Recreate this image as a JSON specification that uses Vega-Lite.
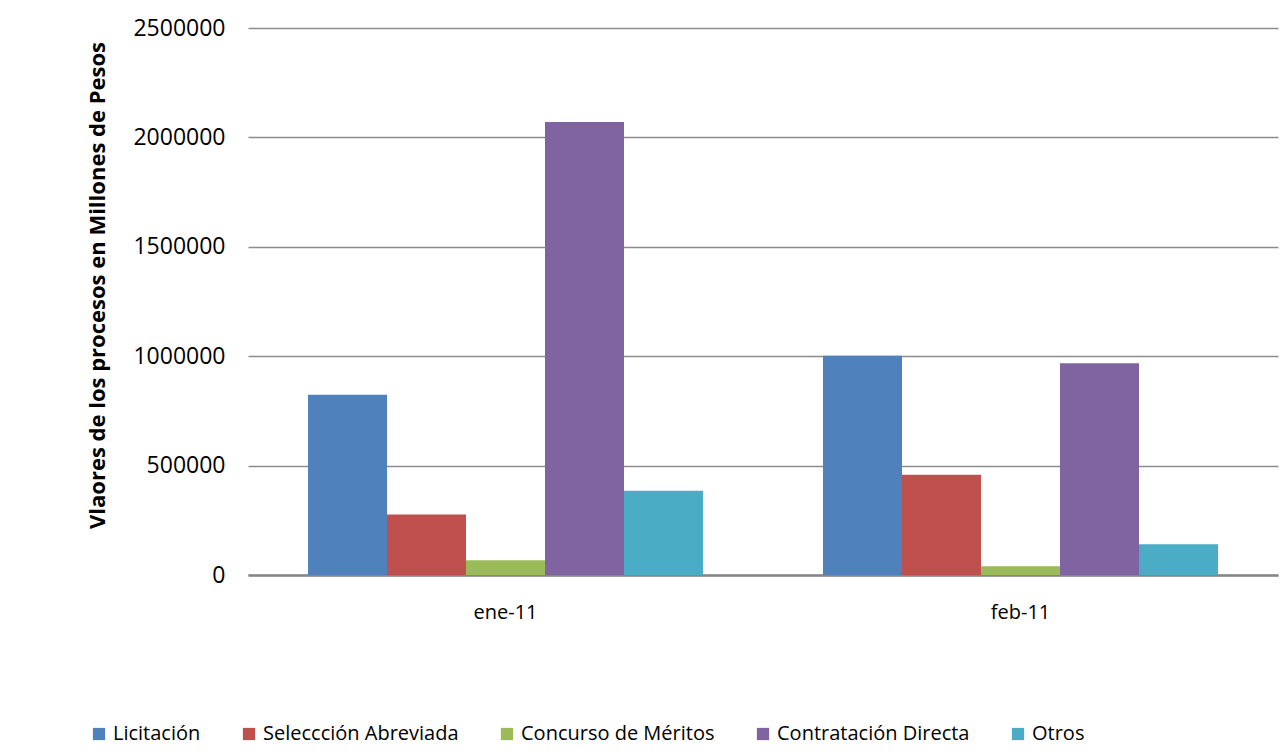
{
  "$schema": "https://vega.github.io/schema/vega-lite/v6.json",
  "autosize": {"type": "none"},
  "width": 1030,
  "height": 547,
  "padding": {"left": 248, "top": 28, "right": 7, "bottom": 180},
  "background": "white",
  "config": {
    "font": "Open Sans",
    "view": {"stroke": null},
    "axis": {"labelColor": "#000000", "titleColor": "#000000"}
  },
  "data": {
    "values": [
      {"mes": "ene-11", "tipo": "Licitación", "valor": 824000},
      {"mes": "ene-11", "tipo": "Seleccción Abreviada", "valor": 277000},
      {"mes": "ene-11", "tipo": "Concurso de Méritos", "valor": 67000},
      {"mes": "ene-11", "tipo": "Contratación Directa", "valor": 2070000},
      {"mes": "ene-11", "tipo": "Otros", "valor": 385000},
      {"mes": "feb-11", "tipo": "Licitación", "valor": 1002000},
      {"mes": "feb-11", "tipo": "Seleccción Abreviada", "valor": 458000},
      {"mes": "feb-11", "tipo": "Concurso de Méritos", "valor": 40000},
      {"mes": "feb-11", "tipo": "Contratación Directa", "valor": 968000},
      {"mes": "feb-11", "tipo": "Otros", "valor": 140000}
    ]
  },
  "mark": {"type": "bar"},
  "encoding": {
    "x": {
      "field": "mes",
      "type": "nominal",
      "sort": ["ene-11", "feb-11"],
      "scale": {"paddingInner": 0.233, "paddingOuter": 0.1165},
      "axis": {
        "title": null,
        "labelAngle": 0,
        "labelFontSize": 20,
        "labelPadding": 27,
        "ticks": false,
        "domainColor": "#868686",
        "domainWidth": 2.5
      }
    },
    "y": {
      "field": "valor",
      "type": "quantitative",
      "scale": {"domain": [0, 2500000]},
      "axis": {
        "title": "Vlaores de los procesos  en Millones de Pesos",
        "titleFontSize": 22,
        "titleFontWeight": "bold",
        "titleX": -151,
        "titleY": 257,
        "titleAngle": -90,
        "titleAlign": "center",
        "titleBaseline": "middle",
        "values": [0, 500000, 1000000, 1500000, 2000000, 2500000],
        "format": "d",
        "labelFontSize": 23,
        "labelPadding": 23,
        "ticks": false,
        "domain": false,
        "grid": true,
        "gridColor": "#8c8c8c",
        "gridWidth": 1.6
      }
    },
    "xOffset": {
      "field": "tipo",
      "type": "nominal",
      "sort": ["Licitación", "Seleccción Abreviada", "Concurso de Méritos", "Contratación Directa", "Otros"],
      "scale": {"paddingInner": 0, "paddingOuter": 0}
    },
    "color": {
      "field": "tipo",
      "type": "nominal",
      "sort": ["Licitación", "Seleccción Abreviada", "Concurso de Méritos", "Contratación Directa", "Otros"],
      "scale": {
        "domain": ["Licitación", "Seleccción Abreviada", "Concurso de Méritos", "Contratación Directa", "Otros"],
        "range": ["#4F81BD", "#C0504D", "#9BBB59", "#8064A2", "#4BACC6"]
      },
      "legend": {
        "title": null,
        "orient": "none",
        "legendX": -159,
        "legendY": 696,
        "direction": "horizontal",
        "columns": 5,
        "columnPadding": 38,
        "symbolType": "square",
        "symbolSize": 150,
        "symbolStrokeWidth": 0,
        "labelFontSize": 20,
        "labelLimit": 0,
        "labelColor": "#000000",
        "labelOffset": 4
      }
    }
  }
}
